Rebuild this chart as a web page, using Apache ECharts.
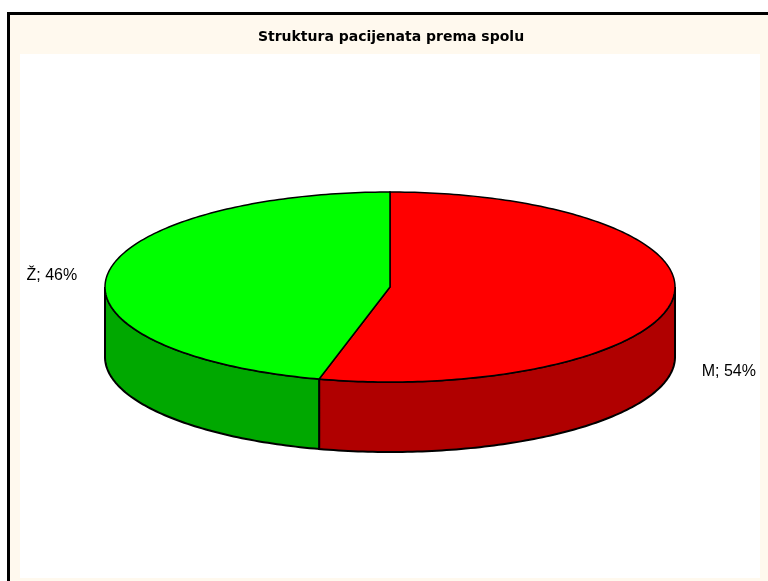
<!DOCTYPE html>
<html>
<head>
<meta charset="utf-8">
<script src="https://cdn.jsdelivr.net/npm/echarts@6/dist/echarts.min.js"></script>
<style>
  html, body { margin: 0; padding: 0; background: #fff; }
  #chart { width: 768px; height: 581px; }
</style>
</head>
<body>
<div id="chart"></div>
<script>
// data
const categories = ['M', 'Ž']
const values = [54, 46]
const topColors = ['#ff0000', '#00ff00']
const sideColors = ['#b00000', '#00a800']

// pie geometry (pixels)
const cx = 390
const cy = 287
const rx = 285
const ry = 95
const depth = 70

const total = values.reduce((a, b) => a + b, 0)
const starts = []
let acc = 0
values.forEach(v => {
  starts.push(acc / total * 360)
  acc += v
})

function pt(deg, dy) {
  const r = deg * Math.PI / 180
  return [cx + rx * Math.sin(r), cy - ry * Math.cos(r) + (dy || 0)]
}

function arc(a, b, dy) {
  const pts = []
  const n = Math.max(2, Math.ceil(Math.abs(b - a)))
  for (let i = 0; i <= n; i++) {
    pts.push(pt(a + (b - a) * i / n, dy))
  }
  return pts
}

const chart = echarts.init(document.getElementById('chart'))

chart.setOption({
  backgroundColor: '#ffffff',
  animation: false,
  title: {
    text: 'Struktura pacijenata prema spolu',
    left: 386,
    top: 25,
    textAlign: 'center',
    textStyle: {
      fontFamily: 'DejaVu Sans, sans-serif',
      fontSize: 14,
      fontWeight: 'bold',
      color: '#000'
    }
  },
  graphic: [
    {
      type: 'rect',
      z: -10,
      shape: { x: 8.5, y: 13.5, width: 780, height: 600 },
      style: { fill: '#fff9ee', stroke: '#000', lineWidth: 3 }
    },
    {
      type: 'rect',
      z: -9,
      shape: { x: 20, y: 54, width: 740, height: 524 },
      style: { fill: '#ffffff' }
    }
  ],
  series: [
    {
      type: 'custom',
      coordinateSystem: 'none',
      data: values,
      renderItem(params, api) {
        const i = params.dataIndex
        const a = starts[i]
        const b = a + api.value(0) / total * 360
        const children = []

        // front wall
        const s = Math.max(a, 90)
        const e = Math.min(b, 270)
        if (e > s) {
          const pts = arc(s, e, 0).concat(arc(e, s, depth))
          children.push({
            type: 'polygon',
            z2: 1,
            shape: { points: pts },
            style: { fill: sideColors[i], stroke: '#000', lineWidth: 2 }
          })
        }

        // top face
        children.push({
          type: 'polygon',
          z2: 2,
          shape: { points: [[cx, cy]].concat(arc(a, b, 0)) },
          style: { fill: topColors[i], stroke: '#000', lineWidth: 1.5 }
        })

        // label
        const mid = (a + b) / 2
        const p = pt(mid, 0)
        const right = Math.sin(mid * Math.PI / 180) > 0
        children.push({
          type: 'text',
          z2: 3,
          style: {
            text: categories[i] + '; ' + api.value(0) + '%',
            x: right ? p[0] + 29 : p[0] - 30,
            y: right ? p[1] + depth + 3 : p[1] + 1,
            textAlign: right ? 'left' : 'right',
            textVerticalAlign: 'middle',
            fontFamily: 'Liberation Sans, Arial, sans-serif',
            fontSize: 16,
            fill: '#000'
          }
        })

        return { type: 'group', children }
      }
    }
  ]
})
</script>
</body>
</html>
